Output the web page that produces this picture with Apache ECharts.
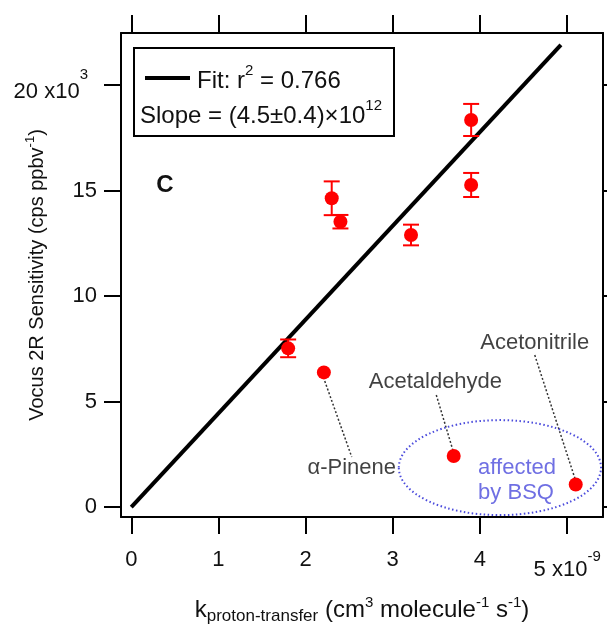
<!DOCTYPE html>
<html>
<head>
<meta charset="utf-8">
<script src="https://cdn.jsdelivr.net/npm/echarts@6/dist/echarts.min.js"></script>
<style>
html, body { margin: 0; padding: 0; background: #fff; }
#main { width: 607px; height: 626px; }
</style>
</head>
<body>
<div id="main"></div>
<script>
// k in 1e-9 cm3 molecule-1 s-1, sensitivity in cps ppbv-1
let kRate = [1.80, 2.21, 2.30, 2.40, 3.21, 3.90, 3.90, 3.70, 5.10];
let sens = [7520, 6380, 14630, 13520, 12890, 18340, 15260, 2420, 1070];
let sensErr = [420, 0, 800, 320, 490, 760, 570, 0, 0];
let fitX = [0, 4.93];
let fitY = [0, 21900];
let xTicks = [0, 1, 2, 3, 4, 5];
let yTicks = [0, 5000, 10000, 15000, 20000];
let noteNames = ['α-Pinene', 'Acetaldehyde', 'Acetonitrile'];
// annotation places, in data coords
let noteAt = [[2.53, 1850], [3.49, 5950], [4.63, 7770]];
let leaderFrom = [[2.22, 5970], [3.50, 5310], [4.63, 7200]];
let leaderTo = [[2.53, 2370], [3.69, 2700], [5.09, 1370]];
let bsqAt = [3.98, 1260];
let bsqEllipse = [4.23, 1870, 1.16, 2250]; // cx, cy, rx, ry

let font = 'Liberation Sans, Arial, Helvetica, sans-serif';
let red = '#ff0000';
let blue = '#4b4bdc';
let ink = '#111';

let chartDom = document.getElementById('main');
let myChart = echarts.init(chartDom);
let option;

let points = kRate.map(function (k, i) { return [k, sens[i], sensErr[i]]; });
let fitLine = fitX.map(function (x, i) { return [x, fitY[i]]; });

let xMin = -0.118, xMax = 5.413;
let yMin = -470, yMax = 22460;

let tickStyle = { color: '#000', width: 2 };

// superscripted tick labels: a spacer token makes the line taller so the
// main text sits low and the exponent sits at the top
let tickRich = {
    n: { fontSize: 22, lineHeight: 22, color: ink },
    sp: { fontSize: 1, lineHeight: 36 },
    big: { fontSize: 22, lineHeight: 22, verticalAlign: 'bottom', color: ink },
    sup: { fontSize: 15, lineHeight: 20, verticalAlign: 'top', color: ink }
};

option = {
    animation: false,
    textStyle: { fontFamily: font },
    grid: { left: 121, right: 4, top: 33, bottom: 109, containLabel: false, outerBoundsMode: 'none' },
    xAxis: [
        {
            type: 'value', min: xMin, max: xMax, position: 'bottom',
            axisLine: { show: true, onZero: false, lineStyle: tickStyle },
            axisTick: { show: true, customValues: xTicks, length: 17, lineStyle: tickStyle },
            axisLabel: {
                customValues: xTicks, margin: 32, color: ink,
                formatter: function (v) {
                    if (v === 5) return '{sp| }{big|5 x10}{sup|-9}';
                    return '{n|' + v + '}';
                },
                rich: {
                    n: tickRich.n,
                    sp: { fontSize: 1, lineHeight: 32 },
                    big: tickRich.big,
                    sup: { fontSize: 15, lineHeight: 15, verticalAlign: 'top', color: ink }
                }
            },
            splitLine: { show: false },
            name: '{t|k}{sub|proton-transfer}{t| (cm}{sup|3}{t| molecule}{sup|-1}{t| s}{sup|-1}{t|)}',
            nameLocation: 'middle', nameGap: 78, nameMoveOverlap: false,
            nameTextStyle: {
                rich: {
                    t: { fontSize: 24, lineHeight: 30, verticalAlign: 'middle', color: ink },
                    sub: { fontSize: 17, lineHeight: 17, verticalAlign: 'bottom', color: ink },
                    sup: { fontSize: 15, lineHeight: 15, verticalAlign: 'top', color: ink }
                }
            }
        },
        {
            type: 'value', min: xMin, max: xMax, position: 'top',
            axisLine: { show: true, onZero: false, lineStyle: tickStyle },
            axisTick: { show: true, customValues: xTicks, length: 18, lineStyle: tickStyle },
            axisLabel: { show: false },
            splitLine: { show: false }
        }
    ],
    yAxis: [
        {
            type: 'value', min: yMin, max: yMax, position: 'left',
            axisLine: { show: true, onZero: false, lineStyle: tickStyle },
            axisTick: { show: true, customValues: yTicks, length: 17, lineStyle: tickStyle },
            axisLabel: {
                customValues: yTicks, margin: 24, color: ink,
                formatter: function (v) {
                    if (v === 20000) return '{sp| }{big|20 x10}{sup|3}';
                    return '{n|' + (v / 1000) + '}';
                },
                rich: {
                    n: tickRich.n,
                    sp: tickRich.sp,
                    big: tickRich.big,
                    sup: { fontSize: 15, lineHeight: 20, padding: [0, 9, 0, 0], verticalAlign: 'top', color: ink }
                }
            },
            splitLine: { show: false },
            name: '{t|Vocus 2R Sensitivity (cps ppbv}{sup|-1}{t|)}',
            nameLocation: 'middle', nameGap: 71, nameRotate: 90, nameMoveOverlap: false,
            nameTextStyle: {
                rich: {
                    t: { fontSize: 20, lineHeight: 26, verticalAlign: 'middle', color: ink },
                    sup: { fontSize: 13, lineHeight: 13, verticalAlign: 'top', color: ink }
                }
            }
        },
        {
            type: 'value', min: yMin, max: yMax, position: 'right',
            axisLine: { show: true, onZero: false, lineStyle: tickStyle },
            axisTick: { show: true, customValues: yTicks, length: 17, lineStyle: tickStyle },
            axisLabel: { show: false },
            splitLine: { show: false }
        }
    ],
    series: [
        {
            name: 'Fit', type: 'line', data: fitLine, symbol: 'none', z: 2,
            lineStyle: { color: '#000', width: 4 }
        },
        {
            name: 'errors', type: 'custom', z: 3,
            data: points,
            renderItem: function (params, api) {
                let x = api.value(0), y = api.value(1), e = api.value(2);
                if (!e) return { type: 'group', children: [] };
                let top = api.coord([x, y + e]);
                let bot = api.coord([x, y - e]);
                let w = 8;
                let st = { stroke: red, lineWidth: 2 };
                return {
                    type: 'group',
                    children: [
                        { type: 'line', shape: { x1: top[0], y1: top[1], x2: bot[0], y2: bot[1] }, style: st },
                        { type: 'line', shape: { x1: top[0] - w, y1: top[1], x2: top[0] + w, y2: top[1] }, style: st },
                        { type: 'line', shape: { x1: bot[0] - w, y1: bot[1], x2: bot[0] + w, y2: bot[1] }, style: st }
                    ]
                };
            }
        },
        {
            name: 'Sensitivity', type: 'scatter', z: 4,
            data: points.map(function (p) { return [p[0], p[1]]; }),
            symbol: 'circle', symbolSize: 14,
            itemStyle: { color: red, opacity: 1 }
        },
        {
            name: 'leaders', type: 'lines', coordinateSystem: 'cartesian2d', z: 1,
            data: leaderFrom.map(function (f, i) { return { coords: [f, leaderTo[i]] }; }),
            lineStyle: { color: '#333', width: 1.5, type: [2, 2], opacity: 1 },
            silent: true
        },
        {
            name: 'notes', type: 'scatter', z: 5, silent: true,
            symbolSize: 0,
            data: noteNames.map(function (n, i) { return { name: n, value: noteAt[i] }; }),
            itemStyle: { color: 'rgba(0,0,0,0)' },
            label: {
                show: true, position: 'inside', formatter: function (p) { return p.name; },
                fontSize: 22, color: ink
            }
        },
        {
            name: 'bsq', type: 'scatter', z: 5, silent: true,
            symbolSize: 0,
            data: [{ name: 'affected\nby BSQ', value: bsqAt }],
            itemStyle: { color: 'rgba(0,0,0,0)' },
            label: {
                show: true, position: 'right', distance: 0, align: 'left',
                formatter: function (p) { return p.name; },
                fontSize: 22, lineHeight: 25, color: blue
            }
        }
    ]
};

myChart.setOption(option);

// ellipse around the BSQ points, placed through the axes
let c = myChart.convertToPixel({ xAxisIndex: 0, yAxisIndex: 0 }, [bsqEllipse[0], bsqEllipse[1]]);
let e = myChart.convertToPixel({ xAxisIndex: 0, yAxisIndex: 0 }, [bsqEllipse[0] + bsqEllipse[2], bsqEllipse[1] + bsqEllipse[3]]);

let legendRich = {
    t: { fontSize: 24, lineHeight: 30, verticalAlign: 'bottom', fill: ink, fontFamily: font },
    s: { fontSize: 15, lineHeight: 15, verticalAlign: 'top', fill: ink, fontFamily: font }
};

myChart.setOption({
    graphic: [
        {
            type: 'ellipse', z: 6, silent: true,
            shape: { cx: c[0], cy: c[1], rx: e[0] - c[0], ry: c[1] - e[1] },
            style: { fill: 'none', stroke: blue, lineWidth: 2, lineDash: [1.5, 2.5] }
        },
        {
            type: 'rect', z: 6,
            shape: { x: 134, y: 48, width: 260, height: 88 },
            style: { fill: '#fff', stroke: '#000', lineWidth: 2 }
        },
        {
            type: 'line', z: 7,
            shape: { x1: 145, y1: 78, x2: 190, y2: 78 },
            style: { stroke: '#000', lineWidth: 4 }
        },
        {
            type: 'text', z: 7, x: 197, y: 78,
            style: { text: '{t|Fit: r}{s|2}{t| = 0.766}', verticalAlign: 'middle', rich: legendRich }
        },
        {
            type: 'text', z: 7, x: 140, y: 113,
            style: { text: '{t|Slope = (4.5±0.4)×10}{s|12}', verticalAlign: 'middle', rich: legendRich }
        },
        {
            type: 'text', z: 7, x: 165, y: 185,
            style: {
                text: 'C', fontSize: 24, fontWeight: 'bold', fill: ink, fontFamily: font,
                align: 'center', verticalAlign: 'middle'
            }
        }
    ]
});
</script>
</body>
</html>
